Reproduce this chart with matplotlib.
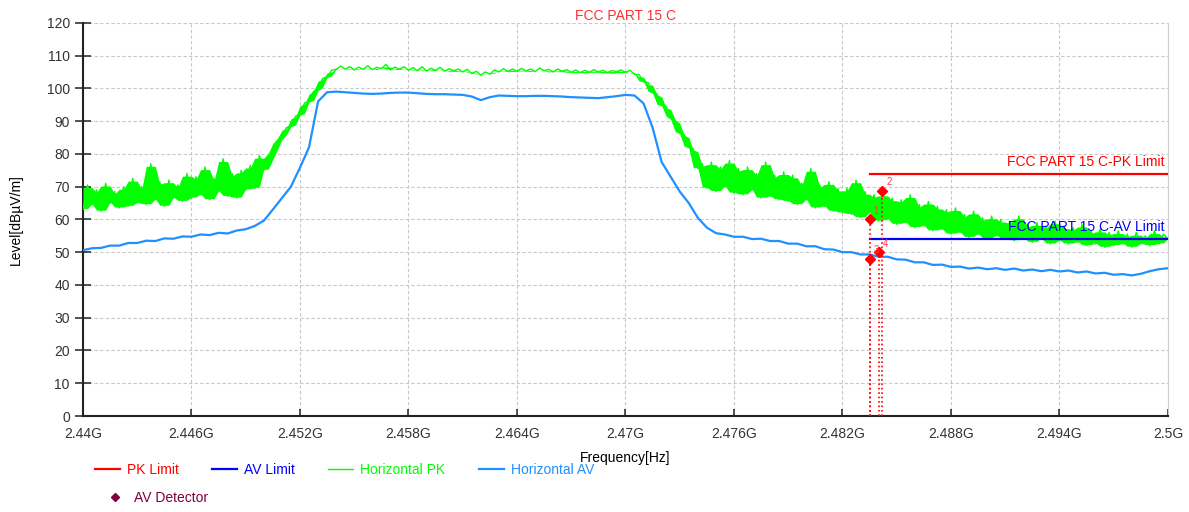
import matplotlib.pyplot as plt
import numpy as np
import matplotlib
from matplotlib.lines import Line2D

matplotlib.rc('font', family=['Liberation Sans', 'DejaVu Sans'])

# Horizontal PK trace, 0.25 MHz steps from 2.440 to 2.500 GHz
pk_level = [
    63.0, 70.5, 64.5, 69.0, 62.5, 71.0, 65.0, 68.5, 63.5, 70.0, 64.0, 72.5,
    65.0, 70.0, 64.5, 77.0, 66.0, 71.5, 64.0, 72.0, 66.5, 70.5, 65.5, 74.0,
    66.5, 73.0, 67.5, 76.0, 66.0, 72.5, 68.5, 78.5, 67.0, 74.0, 66.5, 75.0,
    69.0, 76.5, 69.5, 79.5, 75.0, 78.0, 81.0, 84.0, 85.5, 88.0, 88.5, 91.5,
    92.0, 95.5, 96.0, 99.0, 100.0, 103.0, 103.5, 105.5, 105.8, 106.8, 105.9, 106.6,
    105.6, 106.5, 105.8, 106.9, 105.7, 106.4, 106.0, 107.3, 105.6, 106.5, 105.8, 106.6,
    105.5, 106.3, 105.4, 106.6, 105.3, 106.1, 105.5, 106.4, 105.2, 106.0, 105.4, 105.9,
    105.0, 105.8, 104.5, 105.2, 104.0, 105.0, 104.3, 105.6, 105.0, 106.0, 105.2, 105.9,
    105.2, 106.1, 105.3, 105.9, 105.1, 106.2, 105.4, 105.8, 105.0, 105.9, 105.2, 105.7,
    104.9, 105.6, 104.8, 105.5, 104.9, 105.7, 105.0, 105.5, 104.8, 105.4, 105.1, 105.6,
    104.9, 105.5, 104.3, 104.2, 101.9, 101.8, 98.8, 98.2, 94.8, 94.4, 91.2, 90.2,
    86.5, 85.8, 82.0, 81.5, 75.5, 77.0, 69.5, 77.5, 68.5, 76.0, 70.0, 78.0,
    68.0, 75.5, 67.5, 76.0, 69.0, 74.0, 66.5, 77.5, 67.0, 73.5, 66.0, 74.5,
    65.5, 73.5, 64.5, 71.0, 66.0, 75.5, 63.5, 70.5, 64.0, 71.5, 62.5, 69.5,
    62.0, 69.5, 61.5, 72.0, 60.5, 68.5, 62.0, 67.5, 59.5, 68.0, 60.0, 66.5,
    58.5, 66.0, 59.0, 67.5, 57.5, 64.5, 58.0, 65.5, 56.5, 64.0, 57.0, 63.0,
    55.5, 63.5, 56.0, 61.5, 54.5, 62.5, 55.5, 60.5, 54.0, 61.0, 55.0, 60.0,
    54.0, 59.5, 53.5, 61.0, 54.5, 58.5, 53.0, 59.0, 54.0, 58.0, 52.5, 59.5,
    53.5, 58.0, 52.5, 57.5, 53.0, 58.5, 52.0, 56.5, 52.5, 57.0, 51.5, 56.0,
    52.0, 56.5, 52.5, 55.5, 51.5, 56.0, 52.5, 55.0, 52.0, 56.5, 52.5, 55.5,
    54.0,
]

# Horizontal AV trace, 0.5 MHz steps from 2.440 to 2.500 GHz
av_level = [
    50.6, 51.2, 51.3, 52.0, 52.0, 52.8, 52.8, 53.5, 53.4, 54.2,
    54.1, 54.8, 54.7, 55.4, 55.2, 55.9, 55.7, 56.6, 57.0, 58.0,
    59.6, 63.0, 66.5, 70.0, 75.8, 82.0, 96.0, 98.8, 99.0, 98.8,
    98.6, 98.4, 98.3, 98.4, 98.6, 98.7, 98.7, 98.5, 98.3, 98.2,
    98.2, 98.1, 98.0, 97.5, 96.4, 97.3, 97.8, 97.7, 97.6, 97.6,
    97.7, 97.7, 97.6, 97.5, 97.3, 97.2, 97.1, 97.0, 97.3, 97.6,
    98.0, 97.8, 95.4, 88.0, 77.5, 73.0, 68.5, 65.0, 60.5, 57.5,
    55.8, 55.4, 54.7, 54.7, 54.0, 54.1, 53.4, 53.4, 52.6, 52.6,
    51.8, 51.8, 50.9, 50.8, 50.0, 50.0, 49.3, 49.3, 48.6, 48.6,
    47.8, 47.7, 46.9, 46.9, 46.1, 46.2, 45.5, 45.6, 45.0, 45.3,
    44.8, 45.1, 44.6, 45.0, 44.4, 44.7, 44.2, 44.6, 44.1, 44.4,
    43.8, 44.1, 43.5, 43.7, 43.1, 43.3, 42.9, 43.4, 44.2, 44.8,
    45.1,
]

limit_freq = [2.4835, 2.5]
pk_limit = [74, 74]
av_limit = [54, 54]

marker_freq = [2.4835, 2.4842, 2.4835, 2.4840]
marker_level = [60.1, 68.7, 48.0, 49.9]
marker_names = ['1', '2', '3', '4']

x_ticks = [2.44, 2.446, 2.452, 2.458, 2.464, 2.47, 2.476, 2.482, 2.488, 2.494, 2.5]
x_labels = ['2.44G', '2.446G', '2.452G', '2.458G', '2.464G', '2.47G',
            '2.476G', '2.482G', '2.488G', '2.494G', '2.5G']

pk = np.array(pk_level)
pk_freq = np.linspace(2.44, 2.5, len(pk))
av_freq = np.linspace(2.44, 2.5, len(av_level))

# spread of the noisy PK trace around each sample
pad = np.r_[pk[0], pk, pk[-1]]
pk_lo = np.minimum(np.minimum(pad[:-2], pad[1:-1]), pad[2:])
pk_hi = np.maximum(np.maximum(pad[:-2], pad[1:-1]), pad[2:])

fig = plt.figure(figsize=(11.89, 5.12), dpi=100)
ax = fig.add_axes([0.0698, 0.1875, 0.9125, 0.768])

ax.fill_between(pk_freq, pk_lo + 0.3, pk_hi - 0.8, color='#00ff00', lw=0, zorder=3)
l_pk, = ax.plot(pk_freq, pk, color='#00ff00', lw=1.0, label='Horizontal PK', zorder=3)
l_av, = ax.plot(av_freq, av_level, color='#1e90ff', lw=1.6, label='Horizontal AV', zorder=4)
l_pkl, = ax.plot(limit_freq, pk_limit, color='#ff0000', lw=1.6, label='PK Limit', zorder=5)
l_avl, = ax.plot(limit_freq, av_limit, color='#0000ff', lw=1.6, label='AV Limit', zorder=5)

for f, v, n in zip(marker_freq, marker_level, marker_names):
    ax.plot([f, f], [0, v], color='#ff0000', ls=':', lw=1.2, zorder=6)
    ax.plot(f, v, marker='D', color='#ff0000', ms=5, zorder=7)
    ax.annotate(n, (f, v), xytext=(3, 4), textcoords='offset points',
                color='#ff4040', fontsize=7, zorder=8)

ax.text(2.4998, 75.5, 'FCC PART 15 C-PK Limit', color='#ff0000', fontsize=10,
        ha='right', va='bottom', zorder=8)
ax.text(2.4998, 55.5, 'FCC PART 15 C-AV Limit', color='#0000ff', fontsize=10,
        ha='right', va='bottom', zorder=8)

ax.set_xlim(2.44, 2.5)
ax.set_ylim(0, 120)
ax.set_xticks(x_ticks)
ax.set_xticklabels(x_labels)
ax.set_yticks(np.arange(0, 121, 10))
ax.tick_params(axis='y', direction='inout', length=12, width=1.2, colors='#333333',
               labelsize=10)
ax.tick_params(axis='x', direction='in', length=5, width=1.2, colors='#333333',
               labelsize=10, pad=8)
ax.grid(True, color='#c8c8c8', ls=(0, (3, 2)), lw=0.8)

ax.spines['top'].set_visible(False)
ax.spines['right'].set_color('#d0d0d0')
ax.spines['left'].set_color('#222222')
ax.spines['bottom'].set_color('#222222')
ax.spines['left'].set_linewidth(1.5)
ax.spines['bottom'].set_linewidth(1.5)

ax.set_title('FCC PART 15 C', color='#ff3030', fontsize=10, pad=2)
ax.set_xlabel('Frequency[Hz]', fontsize=10)
ax.xaxis.set_label_coords(0.5, -0.09)
ax.set_ylabel('Level[dBµV/m]', fontsize=10)
ax.yaxis.set_label_coords(-0.055, 0.5)

row1 = [l_pkl, l_avl, l_pk, l_av]
leg1 = fig.legend(handles=row1, ncol=4, loc='center left', bbox_to_anchor=(0.0799, 0.082),
                  frameon=False, fontsize=10, handlelength=1.8, columnspacing=2.4,
                  handletextpad=0.5, borderpad=0, borderaxespad=0)
for txt, h in zip(leg1.get_texts(), row1):
    txt.set_color(h.get_color())

det = Line2D([], [], marker='D', color='#800040', ls='none', ms=4, label='AV Detector')
leg2 = fig.legend(handles=[det], loc='center left', bbox_to_anchor=(0.0858, 0.027),
                  frameon=False, fontsize=10, handlelength=1.8, handletextpad=0.5,
                  borderpad=0, borderaxespad=0)
leg2.get_texts()[0].set_color('#800040')

fig.savefig('out.png', dpi=100)
